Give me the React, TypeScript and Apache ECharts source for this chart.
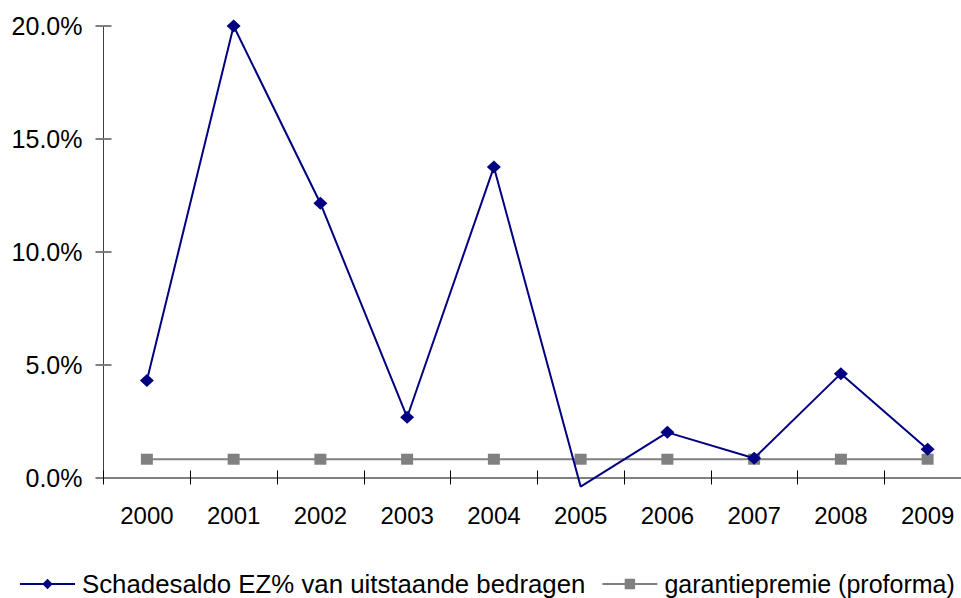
import React, { useEffect, useRef } from "react";
import * as echarts from "echarts";

const categories = ["2000", "2001", "2002", "2003", "2004", "2005", "2006", "2007", "2008", "2009"];
const schadesaldo = [4.3, 20.0, 12.15, 2.67, 13.75, -0.4, 2.0, 0.85, 4.6, 1.25];
const garantiepremie = [0.81, 0.81, 0.81, 0.81, 0.81, 0.81, 0.81, 0.81, 0.81, 0.81];
const seriesNames = ["Schadesaldo EZ% van uitstaande bedragen", "garantiepremie (proforma)"];

const FONT = "'Liberation Sans', Arial, sans-serif";

export default function App() {
  const ref = useRef<HTMLDivElement>(null);
  useEffect(() => {
    if (!ref.current) return;
    const chart = echarts.init(ref.current, null, { renderer: "svg" });
    const blueData = schadesaldo.map((v) =>
      v < 0 ? { value: v, symbol: "none" } : v
    );
    chart.setOption({
      animation: false,
      backgroundColor: "#ffffff",
      textStyle: { fontFamily: FONT },
      grid: { left: 103.5, right: 4, top: 26, bottom: 120.5, containLabel: false },
      legend: {
        top: 570,
        left: 19,
        width: 956,
        padding: 0,
        itemWidth: 55,
        itemHeight: 13,
        itemGap: 16,
        textStyle: { fontSize: 25.8, lineHeight: 28, color: "#000", fontFamily: FONT, padding: [0, 0, 0, 2] },
        data: [
          { name: seriesNames[0] },
          { name: seriesNames[1], textStyle: { fontSize: 25, lineHeight: 28, color: "#000", fontFamily: FONT } },
        ],
      },
      xAxis: [
        {
          type: "category",
          data: categories,
          boundaryGap: true,
          axisLine: { lineStyle: { color: "#808080", width: 2 } },
          axisTick: { show: true, inside: false, length: 7, lineStyle: { color: "#000", width: 1 } },
          axisLabel: { fontSize: 24, color: "#000", margin: 26, fontFamily: FONT },
          splitLine: { show: false },
        },
        {
          type: "category",
          data: categories,
          position: "bottom",
          boundaryGap: true,
          axisLine: { show: false },
          axisTick: { show: true, inside: true, length: 7, lineStyle: { color: "#000", width: 1 } },
          axisLabel: { show: false },
          splitLine: { show: false },
        },
      ],
      yAxis: [
        {
          type: "value",
          min: 0,
          max: 20,
          interval: 5,
          axisLine: { show: true, lineStyle: { color: "#404040", width: 1 } },
          axisTick: { show: true, inside: false, length: 8, lineStyle: { color: "#808080", width: 2 } },
          axisLabel: {
            fontSize: 25,
            color: "#000",
            margin: 21,
            fontFamily: FONT,
            formatter: (v: number) => v.toFixed(1) + "%",
          },
          splitLine: { show: false },
        },
        {
          type: "value",
          position: "left",
          min: 0,
          max: 20,
          interval: 5,
          axisLine: { show: false },
          axisTick: { show: true, inside: true, length: 8, lineStyle: { color: "#808080", width: 2 } },
          axisLabel: { show: false },
          splitLine: { show: false },
        },
      ],
      series: [
        {
          name: seriesNames[0],
          type: "line",
          data: blueData,
          xAxisIndex: 0,
          yAxisIndex: 0,
          symbol: "diamond",
          symbolSize: [14, 13],
          color: "#000080",
          lineStyle: { color: "#000080", width: 2 },
          itemStyle: { color: "#000080" },
          clip: false,
          z: 3,
        },
        {
          name: seriesNames[1],
          type: "line",
          data: garantiepremie,
          xAxisIndex: 0,
          yAxisIndex: 0,
          symbol: "rect",
          symbolSize: [12, 11],
          color: "#808080",
          lineStyle: { color: "#808080", width: 2 },
          itemStyle: { color: "#808080" },
          z: 2,
        },
      ],
    });
    return () => chart.dispose();
  }, []);
  return (
    <div style={{ position: "absolute", left: 0, top: 0, width: 961, height: 598, overflow: "hidden", background: "#fff" }}>
      <div ref={ref} style={{ position: "absolute", left: 0, top: 0, width: 975, height: 598 }} />
    </div>
  );
}
